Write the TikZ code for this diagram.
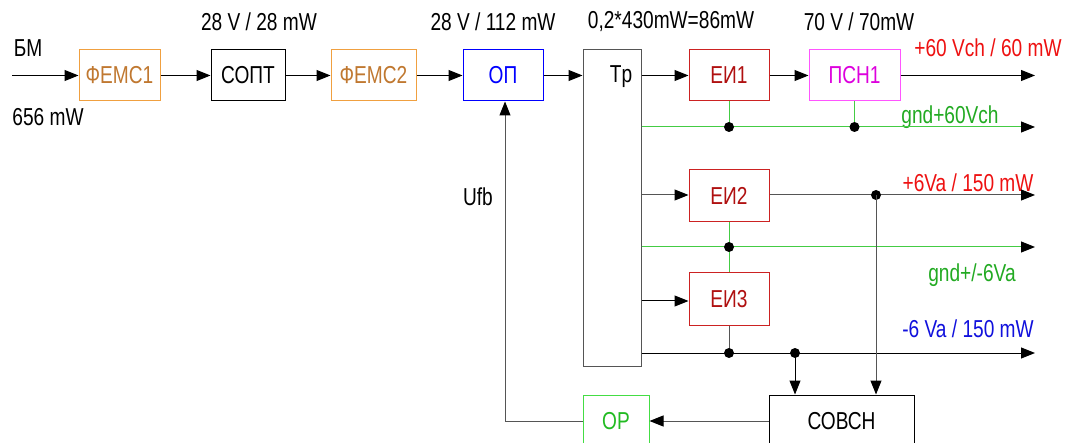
\documentclass[tikz,border=0pt]{standalone}
\usepackage{fontspec}
\setmainfont[FakeStretch=0.78]{Liberation Sans}
\usetikzlibrary{arrows.meta,calc}
\definecolor{orangeb}{HTML}{F0A040}
\definecolor{oranget}{HTML}{C07830}
\definecolor{redb}{HTML}{CC2222}
\definecolor{redt}{HTML}{B01010}
\definecolor{magb}{HTML}{FF55FF}
\definecolor{magt}{HTML}{DD00DD}
\definecolor{greenb}{HTML}{44DD44}
\definecolor{greent}{HTML}{22BB22}
\definecolor{greenl}{HTML}{44CC44}
\definecolor{labred}{HTML}{EE1111}
\definecolor{labblue}{HTML}{1111DD}
\definecolor{labgreen}{HTML}{22AA22}
\definecolor{grayl}{HTML}{555555}
\begin{document}
\begin{tikzpicture}[x=1pt,y=-1pt,
  font=\fontsize{24.5}{26}\selectfont,
  >={Triangle[length=14pt,width=11pt,color=black]},
  blk/.style={draw, line width=1pt, inner sep=0pt, minimum height=51pt},
  gline/.style={draw=greenl, line width=1pt},
  kline/.style={draw=black, line width=1pt},
  dline/.style={draw=grayl, line width=1pt},
  dot/.style={circle, fill=black, inner sep=0pt, minimum size=10pt}]
\clip (0,0) rectangle (1067,443);
\fill[white] (0,0) rectangle (1067,443);

% blocks
\node[blk, draw=orangeb, text=oranget, minimum width=81pt] (f1) at (119.5,75.5) {ФЕМС1};
\node[blk, draw=black, minimum width=74pt] (sopt) at (248,75.5) {СОПТ};
\node[blk, draw=orangeb, text=oranget, minimum width=85pt] (f2) at (373.5,75.5) {ФЕМС2};
\node[blk, draw=blue, text=blue, minimum width=80pt] (op) at (503,75.5) {ОП};
\node[blk, draw=grayl, minimum width=58pt, minimum height=316pt] (tp) at (612,208) {};
\node (tpl) at (621,77) {Tp};
\node[blk, draw=redb, text=redt, minimum width=80pt] (ei1) at (729,75.5) {ЕИ1};
\node[blk, draw=magb, text=magt, minimum width=91pt] (psn) at (854.5,75.5) {ПСН1};
\node[blk, draw=redb, text=redt, minimum width=80pt, minimum height=52pt] (ei2) at (729,196) {ЕИ2};
\node[blk, draw=redb, text=redt, minimum width=80pt, minimum height=52pt] (ei3) at (729,299) {ЕИ3};
\node[blk, draw=black, minimum width=145pt, minimum height=52pt] (sov) at (841.5,421) {СОВСН};
\node[blk, draw=greenb, text=greent, minimum width=66pt, minimum height=52pt] (or) at (616,421) {OP};

% labels
\node (bm) at (28,48) {БМ};
\node (pin) at (48,117) {656 mW};
\node (l1) at (259,22) {28 V / 28 mW};
\node (l2) at (493,22) {28 V / 112 mW};
\node (l3) at (671,22) {0,2*430mW=86mW};
\node (l4) at (859,22) {70 V / 70mW};
\node[text=labred] (l5) at (988,48) {+60 Vch / 60 mW};
\node[text=labgreen] (l6) at (950,117) {gnd+60Vch};
\node[text=labred] (l7) at (968,183) {+6Va / 150 mW};
\node[text=labgreen] (l8) at (972,275) {gnd+/-6Va};
\node[text=labblue] (l9) at (968,329) {-6 Va / 150 mW};
\node (ufb) at (478,197) {Ufb};

% coordinates
\coordinate (in) at (12,75.5);
\coordinate (o1) at (1035,75.5);
\coordinate (g1) at (1035,127);
\coordinate (o2) at (1035,195);
\coordinate (g2) at (1035,247);
\coordinate (o3) at (1035,353);
\coordinate (fbx) at (505,421);

% main chain
\draw[kline,->] (in) -- (f1);
\draw[kline,->] (f1) -- (sopt);
\draw[kline,->] (sopt) -- (f2);
\draw[kline,->] (f2) -- (op);
\draw[kline,->] (op.east) -- (op.east -| tp.west);
\draw[kline,->] (tp.east |- ei1) -- (ei1.west);
\draw[kline,->] (ei1) -- (psn);
\draw[kline,->] (psn.east) -- (o1);

% gnd +60
\draw[gline] (ei1.south) -- (ei1.south |- g1);
\draw[gline] (psn.south) -- (psn.south |- g1);
\draw[gline,->] (tp.east |- g1) -- (g1);
\node[dot] (d1) at (ei1.south |- g1) {};
\node[dot] (d2) at (psn.south |- g1) {};

% ЕИ2
\draw[dline,->] (tp.east |- o2) -- (ei2.west |- o2);
\draw[dline,->] (ei2.east |- o2) -- (o2);
\node[dot] (d3) at (876,195) {};

% gnd +/-6
\draw[gline] (ei2.south) -- (ei3.north);
\draw[gline,->] (tp.east |- g2) -- (g2);
\node[dot] (d4) at (ei2.south |- g2) {};

% ЕИ3
\draw[kline,->] (tp.east |- 0,301) -- (ei3.west |- 0,301);
\draw[kline,->] (tp.east |- o3) -- (o3);
\draw[dline] (ei3.south) -- (ei3.south |- o3);
\node[dot] (d5) at (ei3.south |- o3) {};
\node[dot] (d6) at (795,353) {};

% to СОВСН
\draw[kline,->] (d6.center) -- (d6 |- sov.north);
\draw[dline,->] (d3.center) -- (d3 |- sov.north);

% feedback
\draw[dline,->] (sov.west) -- (or.east);
\draw[dline,->] (or.west) -- (fbx) -- (fbx |- op.south);
\end{tikzpicture}
\end{document}
